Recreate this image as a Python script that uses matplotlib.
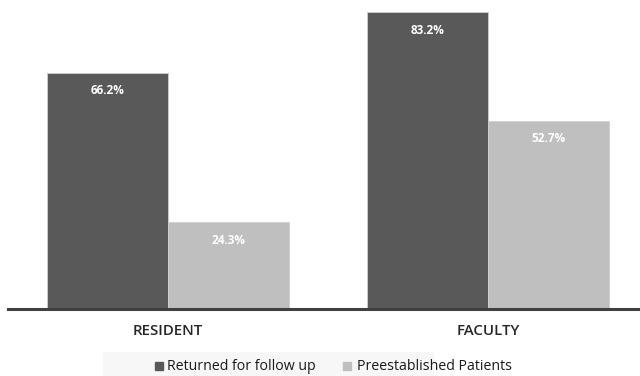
import numpy as np
import matplotlib.pyplot as plt
from matplotlib.patches import Rectangle

plt.rcParams['font.family'] = ['Open Sans', 'DejaVu Sans']

# data
groups = ["RESIDENT", "FACULTY"]
returned = [66.2, 83.2]
preestablished = [24.3, 52.7]
series_names = ["Returned for follow up", "Preestablished Patients"]
colors = ["#595959", "#bfbfbf"]

fig = plt.figure(figsize=(6.4, 3.76), dpi=100)
ax = fig.add_axes([8 / 640, 67 / 376, 632 / 640, 309 / 376])

x = np.arange(len(groups))
w = 121 / 320

b1 = ax.bar(x - w / 2, returned, w, color=colors[0], edgecolor="#d0d0d0", linewidth=0.6,
            label=series_names[0])
b2 = ax.bar(x + w / 2, preestablished, w, color=colors[1], edgecolor="#d0d0d0", linewidth=0.6,
            label=series_names[1])

# value labels inside bar tops
for bars in (b1, b2):
    for r in bars:
        ax.annotate(f"{r.get_height():.1f}%", (r.get_x() + r.get_width() / 2, r.get_height()),
                    xytext=(0, -13), textcoords="offset points", ha="center", va="center",
                    color="white", fontsize=8.5, fontweight="bold")

ax.set_xlim(-(168 - 8) / 320, (640 - 168) / 320)
ax.set_ylim(0, 309 / 3.57)
for s in ["top", "right", "left"]:
    ax.spines[s].set_visible(False)
ax.spines["bottom"].set_color("#404040")
ax.spines["bottom"].set_linewidth(2.2)
ax.set_yticks([])
ax.set_xticks(x)
ax.set_xticklabels(groups, fontsize=10.8, color="#262626", fontweight="semibold")
ax.tick_params(axis="x", length=0, pad=11)

# legend background band
fig.patches.append(Rectangle((103 / 640, 0), 330 / 640, 24 / 376, transform=fig.transFigure,
                             color="#f7f7f7", zorder=0))
for xi, tx, name, c in zip([155, 343], [167, 357], series_names, colors):
    fig.patches.append(Rectangle((xi / 640, 6 / 376), 8 / 640, 8 / 376,
                                 transform=fig.transFigure, color=c, zorder=1))
    fig.text(tx / 640, 10 / 376, name, color="#1a1a1a", fontsize=10.2, ha="left", va="center")

fig.savefig("out.png", dpi=100)
